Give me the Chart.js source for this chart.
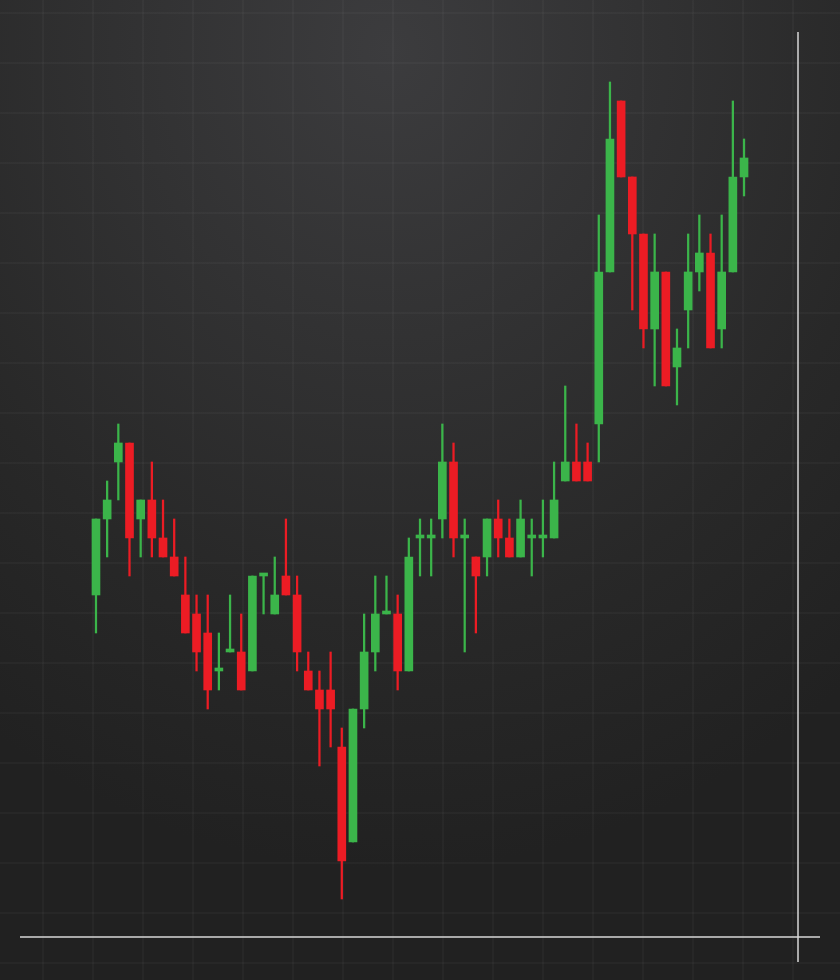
<!DOCTYPE html>
<html>
<head>
<meta charset="utf-8">
<script src="https://cdn.jsdelivr.net/npm/chart.js@4.4.1/dist/chart.umd.min.js"></script>
<style>
    html, body { margin: 0; padding: 0; }
    body {
        width: 840px;
        height: 980px;
        overflow: hidden;
        background-color: #262626;
        background-image:
            repeating-linear-gradient(to right, transparent 0px, transparent 42px, rgba(255,255,255,0.028) 42px, rgba(255,255,255,0.028) 44px, transparent 44px, transparent 50px),
            repeating-linear-gradient(to bottom, transparent 0px, transparent 12px, rgba(255,255,255,0.028) 12px, rgba(255,255,255,0.028) 14px, transparent 14px, transparent 50px),
            radial-gradient(ellipse 720px 820px at 390px 50px, #3c3c3e 0%, #323233 35%, #282828 70%, #212121 100%);
    }
    #wrap { position: absolute; left: 0; top: 0; width: 840px; height: 980px; }
</style>
</head>
<body>
<div id="wrap"><canvas id="candles" width="840" height="980"></canvas></div>
<script>
// candle values (price units), one entry per session
var sessions = [1,2,3,4,5,6,7,8,9,10,11,12,13,14,15,16,17,18,19,20,21,22,23,24,25,26,27,28,29,30,
                31,32,33,34,35,36,37,38,39,40,41,42,43,44,45,46,47,48,49,50,51,52,53,54,55,56,57,58,59];
var opens  = [18,22,25,26,22,23,21,20,18,17,16,14,15,15,14,19,17,19,18,14,13,13,10,5,12,15,17,17,14,21,
              21,22,25,21,20,20,22,21,20,21,21,21,24,25,25,27,35,44,40,37,32,35,30,33,35,36,32,35,40];
var highs  = [22,24,27,26,23,25,23,22,20,18,18,16,18,17,19,19,20,22,19,15,14,15,11,12,17,19,19,18,21,22,
              22,27,26,22,20,22,23,22,23,22,23,25,29,27,26,38,45,44,40,37,37,35,32,37,38,37,38,44,42];
var lows   = [16,20,23,19,20,20,20,19,16,14,12,13,15,13,14,17,17,18,14,13,9,10,2,5,11,14,17,13,14,19,
              19,21,20,15,16,19,20,20,20,19,20,21,24,24,24,25,35,40,33,31,29,29,28,31,34,31,31,35,39];
var closes = [22,23,26,21,23,21,20,19,16,15,13,14,15,13,19,19,18,18,15,13,12,12,4,12,15,17,17,14,20,21,
              21,25,21,21,19,22,21,20,22,21,21,23,25,24,24,35,42,40,37,32,35,29,31,35,36,31,35,40,41];

var UP = '#3bb54a';
var DOWN = '#ec1c24';

var candleColors = opens.map(function (o, i) { return closes[i] >= o ? UP : DOWN; });
var wickData = sessions.map(function (s, i) { return { x: s, y: [lows[i], highs[i]] }; });
var bodyData = sessions.map(function (s, i) { return { x: s, y: [opens[i], closes[i]] }; });

// thin white axis lines, slightly running past the corner
var axisLines = {
    id: 'axisLines',
    afterDraw: function (chart) {
        var a = chart.chartArea;
        var ctx = chart.ctx;
        ctx.save();
        ctx.strokeStyle = '#d6d6d6';
        ctx.lineWidth = 1.5;
        ctx.beginPath();
        ctx.moveTo(a.left, a.bottom);
        ctx.lineTo(a.right + 22, a.bottom);
        ctx.moveTo(a.right, a.top);
        ctx.lineTo(a.right, a.bottom + 25);
        ctx.stroke();
        ctx.restore();
    }
};

var ctx = document.getElementById('candles');
new Chart(ctx, {
    type: 'bar',
    data: {
        datasets: [{
            label: 'wick',
            data: wickData,
            backgroundColor: candleColors,
            barThickness: 1.6,
            grouped: false,
            order: 2
        }, {
            label: 'body',
            data: bodyData,
            backgroundColor: candleColors,
            barThickness: 8,
            minBarLength: 3,
            grouped: false,
            order: 1
        }]
    },
    options: {
        responsive: false,
        animation: false,
        layout: { padding: { left: 20, right: 42, top: 32, bottom: 43 } },
        plugins: {
            legend: { display: false },
            tooltip: { enabled: false }
        },
        scales: {
            x: {
                type: 'linear',
                display: false,
                offset: false,
                min: -5.8,
                max: 63.83
            },
            y: {
                display: false,
                min: 0,
                max: 47.63
            }
        }
    },
    plugins: [axisLines]
});
</script>
</body>
</html>
